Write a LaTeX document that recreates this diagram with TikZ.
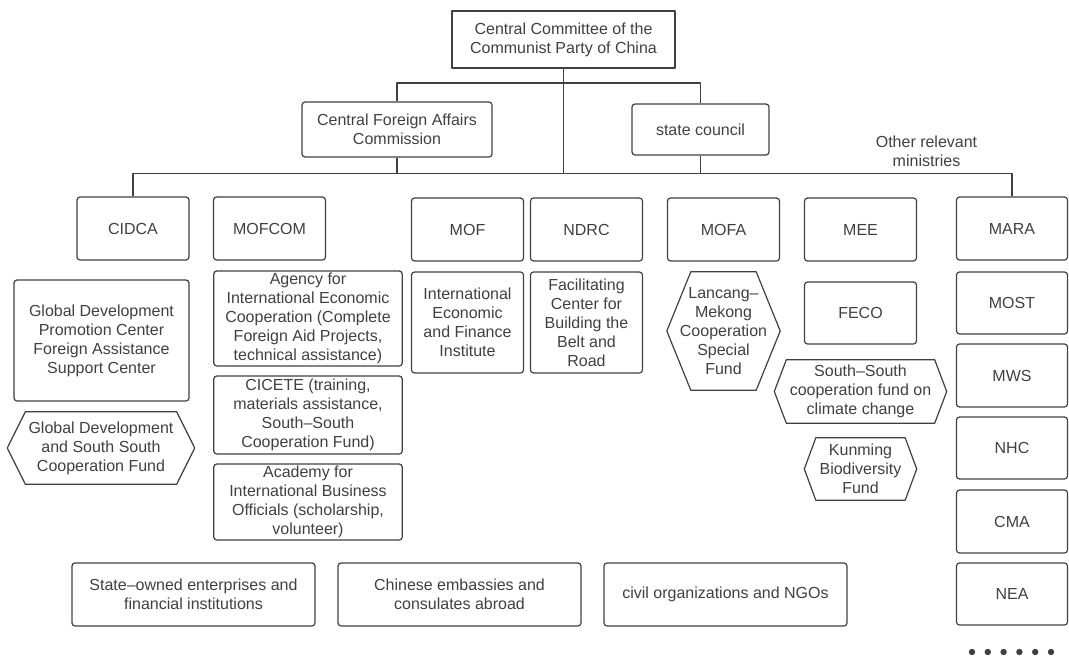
\documentclass[tikz,border=0pt]{standalone}
\usepackage{fontspec}
\setmainfont{Liberation Sans}
\definecolor{ink}{HTML}{404040}
\definecolor{rule}{HTML}{404040}
\tikzset{
  box/.style={draw=rule, line width=1.2pt, rounded corners=3pt, align=center, inner sep=0pt, text=ink},
  hexbox/.style={align=center, inner sep=0pt, text=ink},
  link/.style={draw=rule, line width=1.2pt},
}
\begin{document}
\begin{tikzpicture}[x=1pt, y=-1pt, font=\fontsize{16}{19}\selectfont, line join=round]
\useasboundingbox (0,0) rectangle (1069,656);

% top of the tree
\node[box, rounded corners=0pt, minimum width=223pt, minimum height=57pt] (ccp) at (563.5,39.5) {Central Committee of the\\Communist Party of China};
\node[box, minimum width=190pt, minimum height=55pt] (cfac) at (397,129.5) {Central Foreign Affairs\\Commission};
\node[box, minimum width=137pt, minimum height=51pt] (sc) at (700.5,129.5) {state council};
\node[text=ink, align=center, inner sep=0pt] (orm) at (926.5,151) {Other relevant\\ministries};

\coordinate (topbar) at (0,83);
\coordinate (bus) at (0,173.5);

% ministries
\node[box, minimum width=112pt, minimum height=63pt] (cidca) at (133,228.5) {CIDCA};
\node[box, minimum width=112pt, minimum height=63pt] (mofcom) at (269.5,228.5) {MOFCOM};
\node[box, minimum width=112pt, minimum height=63pt] (mof) at (467.5,229.5) {MOF};
\node[box, minimum width=112pt, minimum height=63pt] (ndrc) at (586.5,229.5) {NDRC};
\node[box, minimum width=112pt, minimum height=63pt] (mofa) at (723.5,229.5) {MOFA};
\node[box, minimum width=112pt, minimum height=63pt] (mee) at (860.5,229.5) {MEE};
\node[box, minimum width=111pt, minimum height=63pt] (mara) at (1012,228.5) {MARA};

% agencies and funds
\node[box, minimum width=175pt, minimum height=121pt] (gdpc) at (101.5,340.5) {Global Development\\Promotion Center\\Foreign Assistance\\Support Center};
\node[hexbox, minimum width=187pt, minimum height=72pt] (gdf) at (101,448) {Global Development\\and South South\\Cooperation Fund};
\node[box, minimum width=188.5pt, minimum height=95pt] (aiec) at (308,318.5) {Agency for\\International Economic\\Cooperation (Complete\\Foreign Aid Projects,\\technical assistance)};
\node[box, minimum width=188.5pt, minimum height=78pt] (cicete) at (308,415) {CICETE (training,\\materials assistance,\\South–South\\Cooperation Fund)};
\node[box, minimum width=188.5pt, minimum height=76pt] (aibo) at (308,502) {Academy for\\International Business\\Officials (scholarship,\\volunteer)};
\node[box, minimum width=112pt, minimum height=101pt] (iefi) at (467.5,322.5) {International\\Economic\\and Finance\\Institute};
\node[box, minimum width=112pt, minimum height=101pt] (fcbr) at (586.5,322.5) {Facilitating\\Center for\\Building the\\Belt and\\Road};
\node[hexbox, minimum width=113pt, minimum height=118pt] (lmf) at (723.5,331) {Lancang–\\Mekong\\Cooperation\\Special\\Fund};
\node[box, minimum width=112pt, minimum height=62pt] (feco) at (860.5,313) {FECO};
\node[hexbox, minimum width=172pt, minimum height=63pt] (ssf) at (860.5,391.5) {South–South\\cooperation fund on\\climate change};
\node[hexbox, minimum width=112pt, minimum height=62pt] (kbf) at (860.5,469) {Kunming\\Biodiversity\\Fund};

% right column
\node[box, minimum width=111pt, minimum height=62pt] (most) at (1012,303) {MOST};
\node[box, minimum width=111pt, minimum height=63pt] (mws) at (1012,375.5) {MWS};
\node[box, minimum width=111pt, minimum height=62pt] (nhc) at (1012,448) {NHC};
\node[box, minimum width=111pt, minimum height=63pt] (cma) at (1012,521.5) {CMA};
\node[box, minimum width=111pt, minimum height=62pt] (nea) at (1012,594) {NEA};
\foreach \i in {0,...,5}
  \fill[rule] (972+\i*15.8,652) circle (3.2pt);

% bottom row
\node[box, minimum width=243pt, minimum height=63pt] (soe) at (193.5,594.5) {State–owned enterprises and\\financial institutions};
\node[box, minimum width=243pt, minimum height=63pt] (emb) at (459.5,594.5) {Chinese embassies and\\consulates abroad};
\node[box, minimum width=243pt, minimum height=63pt] (ngo) at (725.5,594.5) {civil organizations and NGOs};

% hexagon outlines
\foreach \n/\d in {gdf/18, lmf/24, ssf/12, kbf/11.5}
  \draw[link] ([xshift=\d pt]\n.north west) -- ([xshift=-\d pt]\n.north east) -- (\n.east)
    -- ([xshift=-\d pt]\n.south east) -- ([xshift=\d pt]\n.south west) -- (\n.west) -- cycle;

% connectors
\draw[link] (cfac.north) -- (cfac.north |- topbar) -- (sc.north |- topbar) -- (sc.north);
\draw[link] (ccp.south) -- (ccp.south |- bus);
\draw[link] (cfac.south) -- (cfac.south |- bus);
\draw[link] (sc.south) -- (sc.south |- bus);
\draw[link] (cidca.north) -- (cidca.north |- bus) -- (mara.north |- bus) -- (mara.north);
\end{tikzpicture}
\end{document}
